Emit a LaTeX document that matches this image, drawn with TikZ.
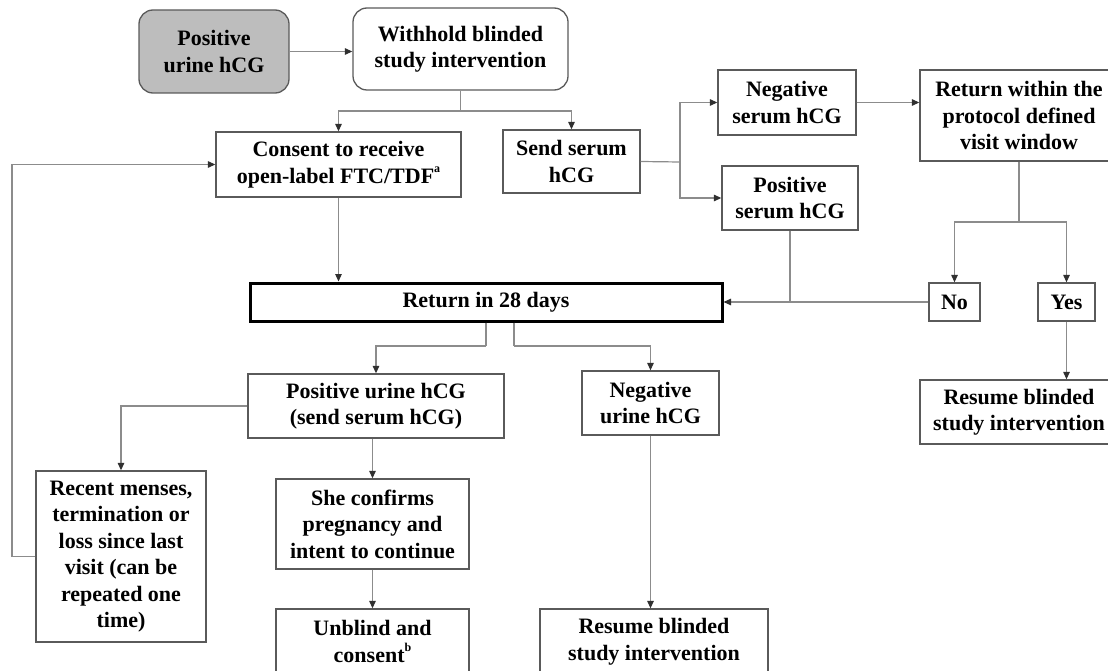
\documentclass[tikz,border=0pt]{standalone}
\usepackage{fontspec}
\setmainfont{Liberation Serif}
\usetikzlibrary{arrows.meta,calc}
\definecolor{boxc}{HTML}{5A5A5A}
\definecolor{linec}{HTML}{8C8C8C}
\definecolor{tipc}{HTML}{303030}
\definecolor{grayfill}{HTML}{BDBDBD}
\newcommand\fsz{\fontsize{22}{26.5}\selectfont}
\newcommand\supmark[1]{\raisebox{0.5em}{\fontsize{12}{12}\selectfont #1}}
\tikzset{
  box/.style={draw=boxc, line width=1.3pt, fill=white, inner sep=0pt, align=center, font=\bfseries\fsz, text=black},
  arr/.style={draw=linec, line width=1.2pt, -{Triangle[length=7.5pt,width=6.5pt,color=tipc]}},
  ln/.style={draw=linec, line width=1.2pt},
}
\begin{document}
\begin{tikzpicture}[x=1pt,y=-1pt]
\useasboundingbox (0,0) rectangle (1108,671);
% nodes
\node[box, fill=grayfill, rounded corners=14pt, minimum width=150pt, minimum height=83pt] (pos) at (214,51.5) {Positive\\urine hCG};
\node[box, rounded corners=14pt, minimum width=215pt, minimum height=82pt] (withhold) at (460.5,49) {Withhold blinded\\study intervention};
\node[box, minimum width=245pt, minimum height=65pt] (consent) at (338.5,164.5) {Consent to receive\\open-label FTC/TDF\supmark{a}};
\node[box, minimum width=137pt, minimum height=63pt] (send) at (571.5,161.5) {Send serum\\hCG};
\node[box, minimum width=138pt, minimum height=65pt] (negs) at (787,102.5) {Negative\\serum hCG};
\node[box, minimum width=136pt, minimum height=64pt] (poss) at (790,198) {Positive\\serum hCG};
\node[box, minimum width=198pt, minimum height=91pt] (retwin) at (1019,115.5) {Return within the\\protocol defined\\visit window};
\node[box, draw=black, line width=3pt, minimum width=472pt, minimum height=38pt] (ret28) at (486,302) {Return in 28 days};
\node[box, minimum width=51pt, minimum height=38pt] (no) at (954.5,302) {No};
\node[box, minimum width=57pt, minimum height=38pt] (yes) at (1066.5,302) {Yes};
\node[box, minimum width=198pt, minimum height=64pt] (resR) at (1019,412) {Resume blinded\\study intervention};
\node[box, minimum width=256pt, minimum height=64pt] (posu) at (376,406) {Positive urine hCG\\(send serum hCG)};
\node[box, minimum width=137pt, minimum height=64pt] (negu) at (650.5,403) {Negative\\urine hCG};
\node[box, minimum width=170pt, minimum height=171pt] (recent) at (121,556.5) {Recent menses,\\termination or\\loss since last\\visit (can be\\repeated one\\time)};
\node[box, minimum width=193pt, minimum height=90pt] (she) at (372.5,524) {She confirms\\pregnancy and\\intent to continue};
\node[box, minimum width=193pt, minimum height=65pt] (unblind) at (372.5,641.5) {Unblind and\\consent\supmark{b}};
\node[box, minimum width=228pt, minimum height=65pt] (resB) at (654,641.5) {Resume blinded\\study intervention};
% junctions
\coordinate (j1) at (460.5,111);
\coordinate (j2) at (680,162);
\coordinate (j3) at (1019,222);
\coordinate (j4) at (486,346);
\coordinate (j5) at (514,346);
\coordinate (lp) at (12,0);
% connectors
\draw[arr] (pos.east) -- (pos.east -| withhold.west);
\draw[ln] (withhold.south) -- (j1);
\draw[arr] (j1) -| (consent.north);
\draw[arr] (j1) -| (send.north);
\draw[ln] (send.east) -- (j2);
\draw[arr] (j2) |- (negs.west);
\draw[arr] (j2) |- (poss.west);
\draw[arr] (negs.east) -- (negs.east -| retwin.west);
\draw[arr] (consent.south) -- (consent.south |- ret28.north);
\draw[ln] (poss.south) -- (poss.south |- ret28.east);
\draw[arr] (no.west) -- (ret28.east);
\draw[ln] (retwin.south) -- (j3);
\draw[arr] (j3) -| (no.north);
\draw[arr] (j3) -| (yes.north);
\draw[arr] (yes.south) -- (yes.south |- resR.north);
\draw[ln] (j4 |- ret28.south) -- (j4);
\draw[arr] (j4) -| (posu.north);
\draw[ln] (j5 |- ret28.south) -- (j5);
\draw[arr] (j5) -| (negu.north);
\draw[arr] (posu.west) -| (recent.north);
\draw[arr] (she.north |- posu.south) -- (she.north);
\draw[arr] (she.south) -- (unblind.north);
\draw[arr] (negu.south) -- (negu.south |- resB.north);
\draw[arr] (recent.west) -- (recent.west -| lp) |- (consent.west);
\end{tikzpicture}
\end{document}
